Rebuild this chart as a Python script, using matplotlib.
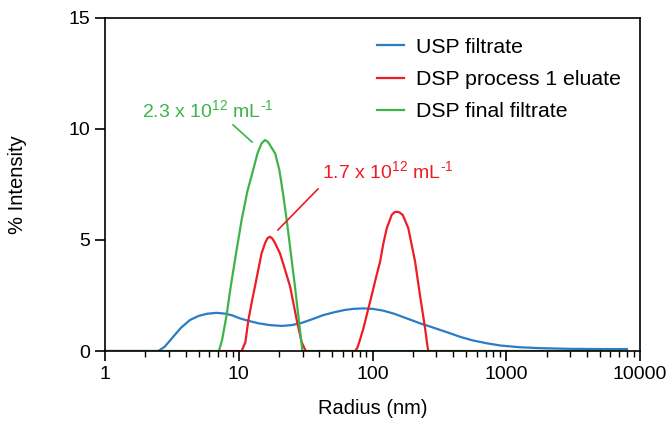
import numpy as np
from matplotlib import pyplot as plt

# USP filtrate (blue)
usp_r = [1, 2.5, 2.8, 3.24, 3.7, 4.32, 5, 5.8, 6.84, 8, 9, 10.2, 12, 14, 17, 20.9,
         25, 30, 36, 42.9, 52, 62, 72, 85.4, 100, 120, 145, 180, 226, 270, 320,
         380, 451, 560, 714, 900, 1267, 1800, 3000, 5000, 7950]
usp_i = [0, 0, 0.2, 0.65, 1.05, 1.4, 1.58, 1.68, 1.72, 1.68, 1.6, 1.47, 1.35, 1.25,
         1.17, 1.13, 1.17, 1.28, 1.45, 1.62, 1.75, 1.85, 1.9, 1.92, 1.9, 1.82, 1.68,
         1.47, 1.25, 1.1, 0.95, 0.8, 0.64, 0.48, 0.35, 0.25, 0.17, 0.13, 0.1, 0.09,
         0.09]

# DSP process 1 eluate (red)
dsp1_r = [1, 10.5, 11.2, 11.8, 12.5, 13.2, 14.8, 15.7, 16.4, 17.1, 17.9, 18.7, 20.3,
          22.2, 24.2, 27.1, 29.5, 31.7, 74, 77, 80, 85.4, 92, 98.6, 106, 113.8,
          120, 127.7, 139, 146, 151.7, 158, 168, 185, 208, 226, 247, 256, 261, 8000]
dsp1_i = [0, 0, 0.4, 1.4, 2.2, 2.9, 4.4, 4.85, 5.08, 5.15, 5.05, 4.85, 4.4, 3.65,
          2.9, 1.4, 0.4, 0, 0, 0.15, 0.45, 1.02, 1.8, 2.52, 3.3, 4.02, 4.8, 5.53,
          6.13, 6.25, 6.27, 6.25, 6.13, 5.53, 4.02, 2.52, 1.02, 0.3, 0, 0]

# DSP final filtrate (green)
dspf_r = [1, 7.1, 7.5, 8.1, 8.7, 9.6, 10.5, 11.6, 12.8, 13.8, 14.8, 15.7, 16.6,
          17.6, 18.7, 20.1, 21.4, 22.8, 24.5, 26.3, 28.2, 29.9, 8000]
dspf_i = [0, 0, 0.5, 1.6, 2.9, 4.5, 5.9, 7.2, 8.15, 8.9, 9.35, 9.5, 9.4, 9.15, 8.9,
          8.15, 7.1, 5.9, 4.4, 2.9, 1.3, 0, 0]

labels = ["USP filtrate", "DSP process 1 eluate", "DSP final filtrate"]
colors = ["#2a7cc4", "#ee1c25", "#3cb44a"]

plt.rcParams["font.family"] = ["Liberation Sans", "DejaVu Sans"]
plt.rcParams["mathtext.fontset"] = "custom"
plt.rcParams["mathtext.rm"] = "Liberation Sans"

fig = plt.figure(figsize=(6.71, 4.25), dpi=100)
ax = fig.add_axes([0.1565, 0.174, 0.7975, 0.784])

ax.plot(usp_r, usp_i, color=colors[0], lw=1.6, label=labels[0])
ax.plot(dsp1_r, dsp1_i, color=colors[1], lw=1.6, label=labels[1])
ax.plot(dspf_r, dspf_i, color=colors[2], lw=1.6, label=labels[2])

ax.set_xscale("log")
ax.set_xlim(1, 10000)
ax.set_ylim(0, 15)
ax.set_xticks([1, 10, 100, 1000, 10000])
ax.set_xticklabels(["1", "10", "100", "1000", "10000"])
ax.set_yticks([0, 5, 10, 15])
ax.tick_params(axis="both", which="major", direction="out", length=7, width=1.2,
               labelsize=14, top=False, right=False)
ax.tick_params(axis="x", which="minor", direction="out", length=4, width=1.0, top=False)
for s in ax.spines.values():
    s.set_linewidth(1.2)

ax.set_xlabel("Radius (nm)", fontsize=14.5, labelpad=12)
ax.set_ylabel("% Intensity", fontsize=14.5, labelpad=30)

# annotations
ax.text(5.9, 10.8, r"2.3 x 10$^{12}$ mL$^{\text{-}1}$", color=colors[2], fontsize=14,
        ha="center", va="center")
ax.plot([9.06, 12.56], [10.18, 9.41], color=colors[2], lw=1.2)
ax.text(130, 8.06, r"1.7 x 10$^{12}$ mL$^{\text{-}1}$", color=colors[1], fontsize=14,
        ha="center", va="center")
ax.plot([39.1, 19.6], [7.3, 5.45], color=colors[1], lw=1.2)

ax.legend(loc="upper left", bbox_to_anchor=(0.508, 0.94), frameon=False,
          fontsize=15.3, handlelength=1.3, handletextpad=0.55, labelspacing=0.62,
          borderpad=0, borderaxespad=0)

fig.savefig("out.png", dpi=100)
